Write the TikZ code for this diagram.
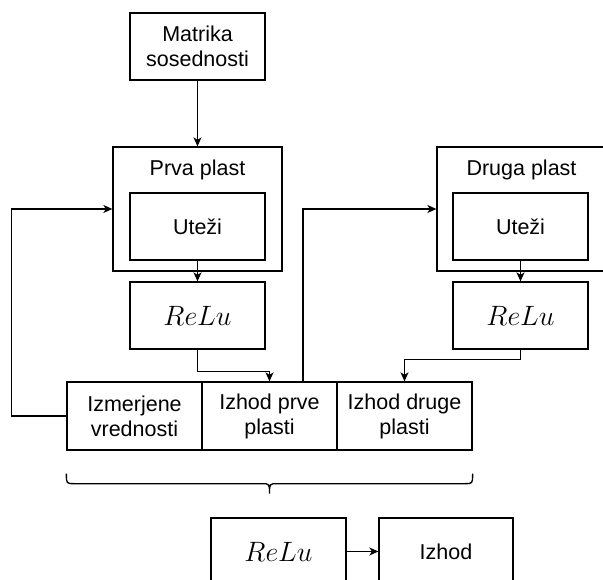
\RequirePackage{fix-cm}
\documentclass[tikz,border=0pt]{standalone}
\usepackage{fontspec}
\setmainfont{Liberation Sans}
\usetikzlibrary{arrows.meta,positioning,calc}
\begin{document}
\begin{tikzpicture}[x=1pt,y=-1pt,
  line width=1.3pt,
  box/.style={draw, line width=1.3pt, minimum width=135pt, minimum height=67pt, inner sep=0pt, align=center,
    font=\fontsize{21.5}{25}\selectfont},
  outerbox/.style={draw, line width=1.3pt, minimum width=169pt, minimum height=124pt, inner sep=0pt},
  cell/.style={box, minimum height=68pt},
  lbl/.style={inner sep=0pt, font=\fontsize{21.5}{25}\selectfont},
  mathtxt/.style={font=\fontsize{28}{32}\selectfont},
  arr/.style={-{Stealth[length=9pt,width=8pt,inset=2.5pt]}, line width=1.3pt}]
\useasboundingbox (0,0) rectangle (603,580);
\clip (0,0) rectangle (603,580);

% top input
\node[box] (mat) at (197.5,46.5) {Matrika\\sosednosti};

% first layer
\node[outerbox] (prva) at (197.5,209) {};
\node[lbl] (prvalbl) at (197.5,170) {Prva plast};
\node[box] (ut1) at (197.5,226.5) {Uteži};
\node[box,mathtxt] (relu1) at (197.5,315.5) {$ReLu$};

% second layer
\node[outerbox] (druga) at (521.5,209) {};
\node[lbl] (drugalbl) at (521.5,170) {Druga plast};
\node[box] (ut2) at (520.5,226.5) {Uteži};
\node[box,mathtxt] (relu2) at (520.5,315.5) {$ReLu$};

% bottom row
\node[cell] (c1) at (134.5,416) {Izmerjene\\vrednosti};
\node[cell] (c2) at (269.5,416) {Izhod prve\\plasti};
\node[cell] (c3) at (404.5,416) {Izhod druge\\plasti};

% output
\node[box,mathtxt] (relub) at (278.5,551.5) {$ReLu$};
\node[box, minimum width=134pt] (izhod) at (446,551.5) {Izhod};

% connectors
\draw[arr] (mat.south) -- (prva.north);
\draw[arr] (ut1.south) -- (relu1.north);
\draw[arr] (relu1.south) |- ([yshift=10pt]c2.north) -- (c2.north);
\draw[arr] (ut2.south) -- (relu2.north);
\draw[arr] (relu2.south) |- ([yshift=22pt]c3.north) -- (c3.north);
\draw[arr] (c1.west) -- ++(-55,0) |- (prva.west);
\draw[arr] ([xshift=33.5pt]c2.north) |- (druga.west);
\draw[arr] (relub.east) -- (izhod.west);

% brace under the row
\coordinate (bl) at ([yshift=-23pt]c1.south west);
\coordinate (br) at ([yshift=-23pt]c3.south east);
\coordinate (bt) at ([yshift=-43pt]c2.south);
\draw[line width=1.3pt] (bl) .. controls ($(bl)+(0,10)$) .. ($(bl)+(8,10)$)
  -- ($(bt)+(-8,-10)$) .. controls ($(bt)+(0,-10)$) .. (bt)
  .. controls ($(bt)+(0,-10)$) .. ($(bt)+(8,-10)$)
  -- ($(br)+(-8,10)$) .. controls ($(br)+(0,10)$) .. (br);
\end{tikzpicture}
\end{document}
